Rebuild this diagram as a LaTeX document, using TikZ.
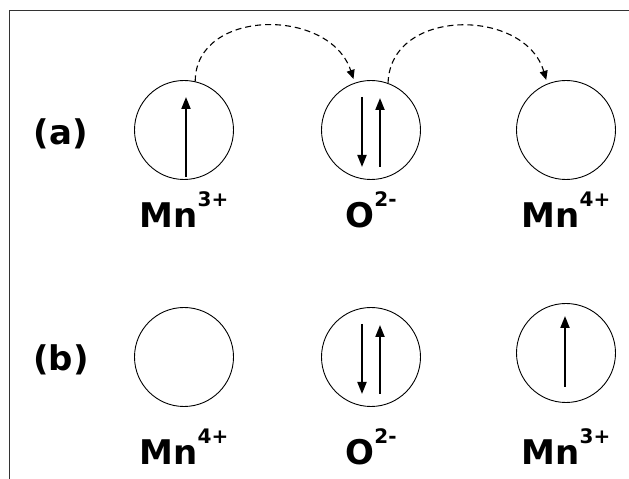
\documentclass[tikz,border=0pt]{standalone}
\usepackage{fontspec}
\setmainfont{DejaVu Sans}
\usetikzlibrary{arrows, arrows.meta}

\newcommand{\ionlbl}[2]{#1\raisebox{21pt}{\fontsize{20}{24}\selectfont #2}}

\tikzset{
  orbital/.style={draw, circle, line width=0.9pt, minimum size=99pt, inner sep=0pt},
  spin/.style={line width=2pt, -{Triangle[width=9pt,length=12pt]}},
  hop/.style={dashed, dash pattern=on 6pt off 4pt, line width=1.1pt, -{Triangle[width=8pt,length=9pt]}, shorten >=4pt},
  ion/.style={anchor=base, font=\fontsize{34}{40}\selectfont\bfseries},
  frame/.style={draw=black!80, line width=1.2pt}
}

\begin{document}
\begin{tikzpicture}[x=1pt,y=1pt]
\useasboundingbox (0,0) rectangle (629,479);

\draw[frame] (9.5,0) -- (9.5,468.5) -- (629,468.5); %frame

% row (a)
\node[ion] (labA) at (61,334) {(a)};
\node[orbital] (mnA1) at (184,349) {};
\node[orbital] (oA) at (371,349) {};
\node[orbital] (mnA2) at (566,349) {};

\draw[spin] (mnA1.center) ++(2,-47) -- ++(0,80);
\draw[spin] (oA.center) ++(-9,33) -- ++(0,-70);
\draw[spin] (oA.center) ++(9,-37) -- ++(0,69);

\draw[hop] (mnA1.77) .. controls +(0,73) and +(-25,76) .. (oA.109);
\draw[hop] (oA.70) .. controls +(2,76) and +(-22,76) .. (mnA2.112);

\node[ion] (ionA1) at (184,251) {\ionlbl{Mn}{3+}};
\node[ion] (ionA2) at (371,251) {\ionlbl{O}{2-}};
\node[ion] (ionA3) at (566,251) {\ionlbl{Mn}{4+}};

% row (b)
\node[ion] (labB) at (61,108) {(b)};
\node[orbital] (mnB1) at (184,122) {};
\node[orbital] (oB) at (371,122) {};
\node[orbital] (mnB2) at (566,126) {};

\draw[spin] (oB.center) ++(-9,33) -- ++(0,-70);
\draw[spin] (oB.center) ++(9,-37) -- ++(0,69);
\draw[spin] (mnB2.center) ++(-1,-34) -- ++(0,71);

\node[ion] (ionB1) at (184,14) {\ionlbl{Mn}{4+}};
\node[ion] (ionB2) at (371,14) {\ionlbl{O}{2-}};
\node[ion] (ionB3) at (566,14) {\ionlbl{Mn}{3+}};

\end{tikzpicture}
\end{document}
